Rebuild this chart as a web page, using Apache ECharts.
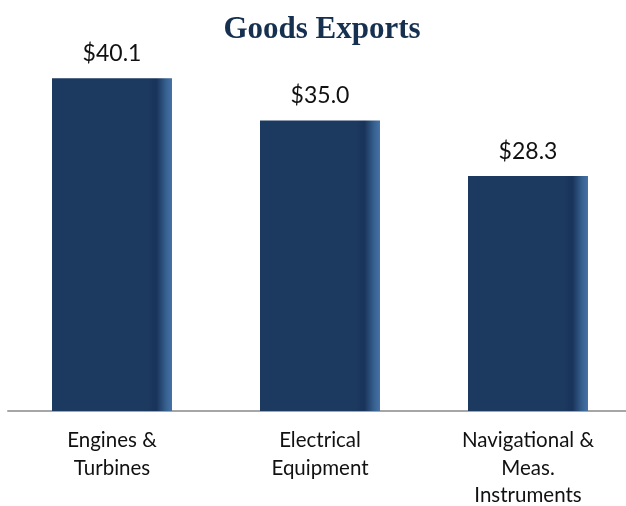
<!DOCTYPE html>
<html><head><meta charset="utf-8">
<script src="https://cdn.jsdelivr.net/npm/echarts@6/dist/echarts.min.js"></script>
<style>html,body{margin:0;padding:0;background:#fff}#c{width:626px;height:506px}</style>
</head><body><div id="c"></div>
<script>
const categories = ['Engines &\nTurbines', 'Electrical\nEquipment', 'Navigational &\nMeas.\nInstruments'];
const values = [40.1, 35.0, 28.3];
const titleText = 'Goods Exports';

const chart = echarts.init(document.getElementById('c'), null, {renderer: 'canvas'});
const barColor = new echarts.graphic.LinearGradient(0, 0, 1, 0, [
  {offset: 0, color: '#1c3960'},
  {offset: 0.8, color: '#1c3960'},
  {offset: 0.87, color: '#19335a'},
  {offset: 0.95, color: '#36608f'},
  {offset: 1, color: '#4672a6'}
]);
chart.setOption({
  animation: false,
  title: {
    text: titleText, left: 317, top: 9, textAlign: 'center',
    textStyle: {fontFamily: 'Liberation Serif', fontWeight: 'bold', fontSize: 31, color: '#16304f'}
  },
  grid: {left: 8, top: 37.5, width: 624, height: 373.5, containLabel: false, outerBoundsMode: 'none'},
  xAxis: {
    type: 'category', data: categories,
    axisLine: {show: true, lineStyle: {color: '#a6a6a6', width: 2}},
    axisTick: {show: false},
    axisLabel: {fontFamily: 'Lato', fontSize: 20.5, color: '#111', lineHeight: 27.5, margin: 16}
  },
  yAxis: {type: 'value', min: 0, max: 45, show: false, splitLine: {show: false}},
  series: [{
    type: 'bar', data: values, barWidth: 120,
    itemStyle: {color: barColor},
    label: {
      show: true, position: 'top', distance: 13,
      formatter: p => '$' + p.value.toFixed(1),
      fontFamily: 'Lato', fontSize: 23, color: '#111'
    }
  }]
});
</script></body></html>
